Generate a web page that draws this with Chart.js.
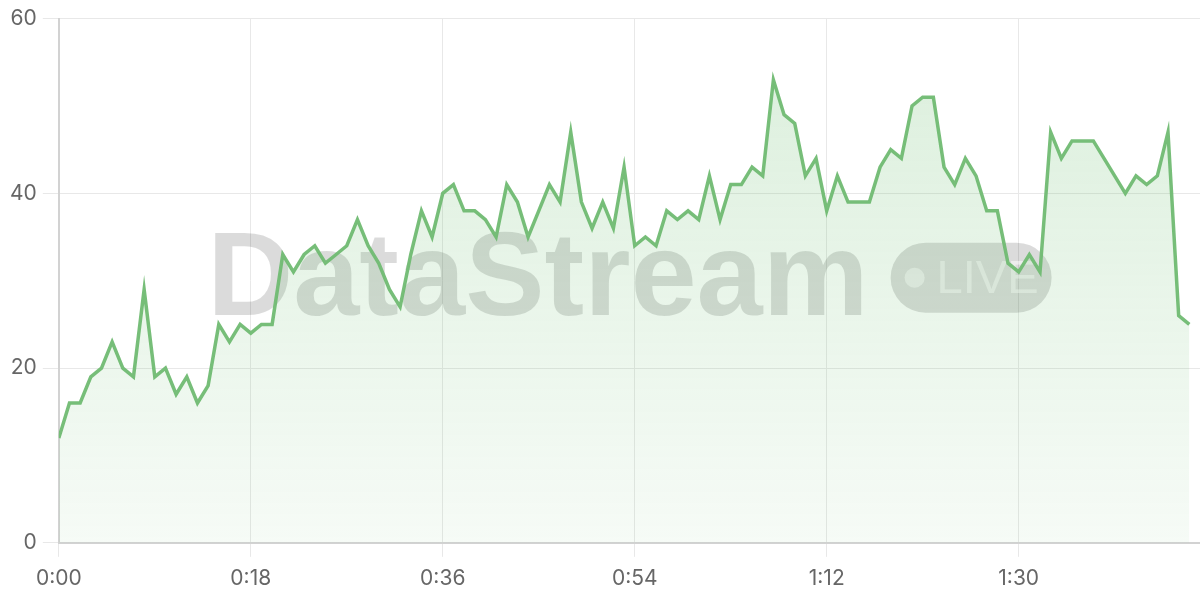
<!DOCTYPE html>
<html>
<head>
<meta charset="utf-8">
<script src="https://cdn.jsdelivr.net/npm/chart.js@4.4.1/dist/chart.umd.min.js"></script>
<style>
  html, body { margin: 0; padding: 0; background: #fff; }
  #wrap { width: 1200px; height: 600px; }
</style>
</head>
<body>
<div id="wrap"><canvas id="myChart"></canvas></div>
<script>
// one reading per second, 0:00 .. 1:46
const values = [
  12, 16, 16, 19, 20, 23, 20, 19, 29, 19,
  20, 17, 19, 16, 18, 25, 23, 25, 24, 25,
  25, 33, 31, 33, 34, 32, 33, 34, 37, 34,
  32, 29, 27, 33, 38, 35, 40, 41, 38, 38,
  37, 35, 41, 39, 35, 38, 41, 39, 47, 39,
  36, 39, 36, 43, 34, 35, 34, 38, 37, 38,
  37, 42, 37, 41, 41, 43, 42, 53, 49, 48,
  42, 44, 38, 42, 39, 39, 39, 43, 45, 44,
  50, 51, 51, 43, 41, 44, 42, 38, 38, 32,
  31, 33, 31, 47, 44, 46, 46, 46, 44, 42,
  40, 42, 41, 42, 47, 26, 25
];
const tickSeconds = [0, 18, 36, 54, 72, 90];
const tickLabels = ['0:00', '0:18', '0:36', '0:54', '1:12', '1:30'];
const yTicks = [0, 20, 40, 60];

var points = values.map((v, i) => ({ x: i, y: v }));

const watermark = {
    id: 'watermark',
    beforeDatasetsDraw(chart) {
        const ctx = chart.ctx;
        const area = chart.chartArea;
        const cx = (area.left + area.right) / 2;
        const cy = (area.top + area.bottom) / 2 - 3;
        ctx.save();
        ctx.font = 'bold 119px "Liberation Sans", Arial, sans-serif';
        const textW = ctx.measureText('DataStream').width;
        const gap = 22, pillW = 161, pillH = 70;
        var x = cx - (textW + gap + pillW) / 2;
        ctx.fillStyle = 'rgba(0,0,0,0.14)';
        ctx.textBaseline = 'alphabetic';
        ctx.fillText('DataStream', x, cy + 37);
        // LIVE pill
        var px = x + textW + gap;
        var py = cy - pillH / 2;
        ctx.beginPath();
        ctx.roundRect(px, py, pillW, pillH, pillH / 2);
        ctx.fill();
        ctx.fillStyle = 'rgba(255,255,255,0.5)';
        ctx.beginPath();
        ctx.arc(px + 24, cy, 10, 0, Math.PI * 2);
        ctx.fill();
        ctx.font = '47px "Liberation Sans", Arial, sans-serif';
        ctx.textBaseline = 'middle';
        ctx.fillText('LIVE', px + 46, cy + 2);
        ctx.restore();
    }
};

var ctx = document.getElementById('myChart').getContext('2d');
var myChart = new Chart(ctx, {
    type: 'line',
    data: {
        datasets: [{
            data: points,
            borderColor: 'rgba(112,186,114,0.95)',
            borderWidth: 3.5,
            pointRadius: 0,
            tension: 0,
            fill: 'origin',
            backgroundColor: function(context) {
                const area = context.chart.chartArea;
                if (!area) return 'rgba(102,187,106,0.15)';
                var g = context.chart.ctx.createLinearGradient(0, area.top, 0, area.bottom);
                g.addColorStop(0, 'rgba(102,187,106,0.24)');
                g.addColorStop(1, 'rgba(102,187,106,0.06)');
                return g;
            }
        }]
    },
    options: {
        responsive: true,
        maintainAspectRatio: false,
        animation: false,
        layout: { padding: { top: 9, left: 4, right: 0, bottom: 0 } },
        plugins: {
            legend: { display: false },
            tooltip: { enabled: false }
        },
        scales: {
            x: {
                type: 'linear',
                min: 0,
                max: 107,
                afterBuildTicks: function(axis) {
                    axis.ticks = tickSeconds.map(s => ({ value: s }));
                },
                ticks: {
                    autoSkip: false,
                    maxRotation: 0,
                    color: '#666',
                    font: { family: 'Inter', size: 21 },
                    padding: 9,
                    callback: function(value) {
                        return tickLabels[tickSeconds.indexOf(value)];
                    }
                },
                grid: { color: '#e8e8e8', lineWidth: 1, tickLength: 14 },
                border: { color: '#d2d2d2', width: 2 }
            },
            y: {
                min: 0,
                max: 60,
                afterBuildTicks: function(axis) {
                    axis.ticks = yTicks.map(v => ({ value: v }));
                },
                ticks: {
                    color: '#666',
                    font: { family: 'Inter', size: 21 },
                    padding: 6
                },
                grid: { color: '#e8e8e8', lineWidth: 1, tickLength: 16 },
                border: { color: '#d2d2d2', width: 2 }
            }
        }
    },
    plugins: [watermark]
});
</script>
</body>
</html>
